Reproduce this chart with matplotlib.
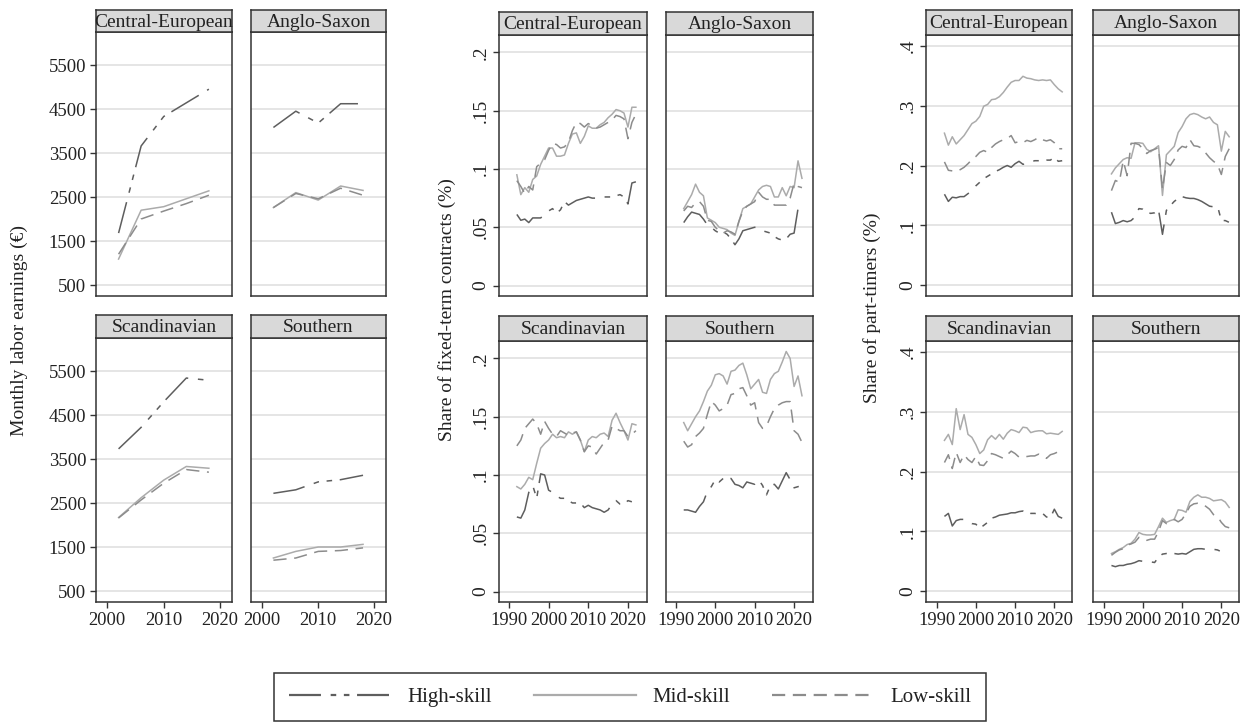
import matplotlib
matplotlib.use('Agg')
import matplotlib.pyplot as plt
import numpy as np
from matplotlib.lines import Line2D

plt.rcParams['font.family'] = ['Liberation Serif', 'DejaVu Serif']
plt.rcParams['lines.scale_dashes'] = False

regions = ['Central-European', 'Anglo-Saxon', 'Scandinavian', 'Southern']
skills = ['High-skill', 'Mid-skill', 'Low-skill']

# monthly labor earnings (EUR)
earn_years = [2002, 2006, 2010, 2014, 2018]
earn_ce_high = [1680, 3660, 4330, 4640, 4950]
earn_ce_mid = [1090, 2200, 2280, 2460, 2640]
earn_ce_low = [1200, 2000, 2180, 2350, 2540]
earn_as_high = [4080, 4450, 4180, 4620, 4620]
earn_as_mid = [2260, 2600, 2430, 2750, 2650]
earn_as_low = [2260, 2580, 2460, 2700, 2540]
earn_sc_high = [3730, 4220, 4800, 5340, 5290]
earn_sc_mid = [2170, 2620, 3020, 3330, 3290]
earn_sc_low = [2160, 2570, 2950, 3260, 3200]
earn_so_high = [2720, 2800, 2980, 3030, 3130]
earn_so_mid = [1250, 1400, 1500, 1500, 1560]
earn_so_low = [1200, 1250, 1400, 1420, 1480]

# share of fixed-term contracts
ft_years = list(range(1992, 2023))
ft_ce_high = [0.061, 0.056, 0.057, 0.054, 0.058, 0.058, 0.058, 0.061, 0.064, 0.066,
              0.062, 0.065, 0.072, 0.069, 0.071, 0.073, 0.074, 0.075, 0.076, 0.075,
              0.075, 0.075, 0.076, 0.076, 0.076, 0.077, 0.078, 0.076, 0.070, 0.088, 0.089]
ft_ce_mid = [0.095, 0.078, 0.084, 0.080, 0.091, 0.094, 0.104, 0.111, 0.118, 0.118,
             0.111, 0.111, 0.112, 0.122, 0.130, 0.131, 0.122, 0.128, 0.137, 0.135,
             0.135, 0.138, 0.140, 0.144, 0.147, 0.151, 0.150, 0.148, 0.136, 0.153, 0.153]
ft_ce_low = [0.090, 0.085, 0.079, 0.085, 0.082, 0.102, 0.105, 0.108, 0.116, 0.122,
             0.121, 0.118, 0.119, 0.123, 0.133, 0.140, 0.139, 0.136, 0.139, 0.137,
             0.135, 0.136, 0.138, 0.140, 0.142, 0.146, 0.145, 0.143, 0.126, 0.140, 0.147]
ft_as_high = [0.054, 0.059, 0.063, 0.062, 0.061, 0.057, 0.052, 0.050, 0.047, 0.045,
              0.046, 0.044, 0.040, 0.035, 0.040, 0.047, 0.048, 0.049, 0.050, 0.049,
              0.047, 0.046, 0.045, 0.042, 0.040, 0.039, 0.040, 0.044, 0.045, 0.066, 0.062]
ft_as_mid = [0.066, 0.072, 0.078, 0.087, 0.080, 0.077, 0.058, 0.056, 0.054, 0.050,
             0.049, 0.048, 0.045, 0.043, 0.055, 0.066, 0.068, 0.070, 0.076, 0.082,
             0.085, 0.086, 0.085, 0.076, 0.076, 0.084, 0.077, 0.085, 0.084, 0.107, 0.092]
ft_as_low = [0.064, 0.068, 0.067, 0.071, 0.072, 0.068, 0.056, 0.055, 0.050, 0.047,
             0.045, 0.047, 0.046, 0.044, 0.055, 0.064, 0.068, 0.070, 0.072, 0.080,
             0.076, 0.074, 0.074, 0.069, 0.069, 0.069, 0.069, 0.075, 0.088, 0.085, 0.084]
ft_sc_high = [0.064, 0.063, 0.070, 0.085, 0.091, 0.080, 0.101, 0.100, 0.087, 0.085,
              0.082, 0.080, 0.080, 0.078, 0.076, 0.076, 0.076, 0.072, 0.074, 0.072,
              0.071, 0.070, 0.068, 0.070, 0.075, 0.078, 0.075, 0.075, 0.078, 0.077, 0.081]
ft_sc_mid = [0.090, 0.088, 0.092, 0.098, 0.096, 0.110, 0.123, 0.127, 0.130, 0.135,
             0.132, 0.133, 0.132, 0.137, 0.135, 0.137, 0.130, 0.120, 0.130, 0.133,
             0.132, 0.135, 0.136, 0.133, 0.147, 0.153, 0.145, 0.138, 0.130, 0.144, 0.143]
ft_sc_low = [0.125, 0.130, 0.140, 0.144, 0.148, 0.144, 0.135, 0.146, 0.140, 0.135,
             0.133, 0.138, 0.136, 0.134, 0.136, 0.137, 0.130, 0.120, 0.125, 0.124,
             0.118, 0.123, 0.128, 0.130, 0.142, 0.140, 0.138, 0.138, 0.133, 0.135, 0.138]
ft_so_high = [0.070, 0.070, 0.069, 0.068, 0.073, 0.077, 0.086, 0.090, 0.096, 0.094,
              0.097, 0.098, 0.097, 0.092, 0.091, 0.089, 0.094, 0.093, 0.092, 0.096,
              0.091, 0.083, 0.091, 0.092, 0.088, 0.095, 0.102, 0.096, 0.089, 0.090, 0.091]
ft_so_mid = [0.145, 0.138, 0.144, 0.150, 0.155, 0.163, 0.172, 0.177, 0.186, 0.187,
             0.185, 0.178, 0.189, 0.190, 0.194, 0.196, 0.186, 0.174, 0.178, 0.182,
             0.171, 0.170, 0.182, 0.187, 0.189, 0.197, 0.206, 0.200, 0.176, 0.185, 0.168]
ft_so_low = [0.129, 0.124, 0.126, 0.133, 0.136, 0.140, 0.152, 0.163, 0.160, 0.155,
             0.157, 0.160, 0.169, 0.170, 0.174, 0.175, 0.168, 0.160, 0.162, 0.145,
             0.140, 0.142, 0.150, 0.157, 0.160, 0.162, 0.163, 0.163, 0.138, 0.135, 0.128]

# share of part-timers
pt_years = list(range(1992, 2023))
pt_ce_high = [0.152, 0.140, 0.147, 0.146, 0.148, 0.148, 0.153, 0.158, 0.166, 0.172,
              0.178, 0.182, 0.186, 0.190, 0.193, 0.197, 0.200, 0.197, 0.203, 0.207,
              0.202, 0.203, 0.206, 0.208, 0.208, 0.208, 0.209, 0.209, 0.214, 0.207, 0.208]
pt_ce_mid = [0.254, 0.234, 0.248, 0.236, 0.243, 0.250, 0.260, 0.270, 0.274, 0.282,
             0.299, 0.302, 0.310, 0.311, 0.315, 0.322, 0.331, 0.339, 0.342, 0.342,
             0.349, 0.346, 0.345, 0.343, 0.342, 0.343, 0.342, 0.343, 0.335, 0.328, 0.323]
pt_ce_low = [0.206, 0.192, 0.191, 0.190, 0.193, 0.197, 0.203, 0.210, 0.215, 0.222,
             0.225, 0.222, 0.230, 0.236, 0.240, 0.243, 0.245, 0.250, 0.238, 0.240,
             0.238, 0.242, 0.240, 0.243, 0.247, 0.243, 0.241, 0.243, 0.238, 0.228, 0.228]
pt_as_high = [0.122, 0.103, 0.105, 0.108, 0.106, 0.108, 0.114, 0.128, 0.127, 0.122,
              0.120, 0.121, 0.126, 0.085, 0.125, 0.133, 0.140, 0.145, 0.148, 0.146,
              0.145, 0.145, 0.143, 0.140, 0.136, 0.132, 0.131, 0.133, 0.108, 0.108, 0.105]
pt_as_mid = [0.186, 0.196, 0.203, 0.210, 0.213, 0.212, 0.238, 0.238, 0.237, 0.227,
             0.223, 0.228, 0.233, 0.150, 0.218, 0.225, 0.232, 0.255, 0.265, 0.278,
             0.285, 0.287, 0.285, 0.281, 0.278, 0.281, 0.272, 0.268, 0.224, 0.257, 0.248]
pt_as_low = [0.158, 0.175, 0.172, 0.208, 0.183, 0.237, 0.237, 0.235, 0.228, 0.220,
             0.225, 0.227, 0.230, 0.160, 0.205, 0.200, 0.210, 0.226, 0.232, 0.230,
             0.243, 0.233, 0.232, 0.229, 0.221, 0.213, 0.207, 0.202, 0.185, 0.215, 0.228]
pt_sc_high = [0.125, 0.130, 0.109, 0.118, 0.120, 0.120, 0.117, 0.113, 0.112, 0.105,
              0.110, 0.115, 0.122, 0.124, 0.127, 0.128, 0.129, 0.131, 0.131, 0.133,
              0.134, 0.126, 0.130, 0.130, 0.129, 0.130, 0.124, 0.123, 0.137, 0.125, 0.122]
pt_sc_mid = [0.252, 0.262, 0.245, 0.305, 0.270, 0.295, 0.262, 0.257, 0.245, 0.230,
             0.236, 0.253, 0.260, 0.254, 0.262, 0.254, 0.264, 0.270, 0.268, 0.265,
             0.274, 0.273, 0.265, 0.267, 0.268, 0.268, 0.263, 0.264, 0.263, 0.262, 0.267]
pt_sc_low = [0.215, 0.228, 0.205, 0.232, 0.215, 0.228, 0.220, 0.215, 0.225, 0.211,
             0.210, 0.218, 0.230, 0.228, 0.225, 0.222, 0.228, 0.234, 0.230, 0.224,
             0.225, 0.225, 0.226, 0.226, 0.229, 0.226, 0.222, 0.228, 0.230, 0.233, 0.230]
pt_so_high = [0.043, 0.041, 0.043, 0.043, 0.045, 0.046, 0.048, 0.051, 0.050, 0.049,
              0.049, 0.048, 0.057, 0.062, 0.063, 0.063, 0.063, 0.062, 0.063, 0.062,
              0.066, 0.070, 0.071, 0.071, 0.070, 0.070, 0.070, 0.069, 0.066, np.nan, np.nan]
pt_so_mid = [0.063, 0.066, 0.070, 0.073, 0.078, 0.080, 0.087, 0.098, 0.095, 0.094,
             0.094, 0.095, 0.108, 0.122, 0.115, 0.118, 0.120, 0.136, 0.135, 0.132,
             0.150, 0.157, 0.161, 0.157, 0.157, 0.155, 0.151, 0.152, 0.153, 0.149, 0.140]
pt_so_low = [0.060, 0.065, 0.069, 0.071, 0.077, 0.079, 0.082, 0.090, 0.086, 0.085,
             0.087, 0.087, 0.100, 0.118, 0.113, 0.116, 0.120, 0.116, 0.120, 0.130,
             0.142, 0.146, 0.147, 0.146, 0.142, 0.137, 0.128, 0.125, 0.115, 0.108, 0.106]

earn = [[earn_ce_high, earn_ce_mid, earn_ce_low], [earn_as_high, earn_as_mid, earn_as_low],
        [earn_sc_high, earn_sc_mid, earn_sc_low], [earn_so_high, earn_so_mid, earn_so_low]]
ft = [[ft_ce_high, ft_ce_mid, ft_ce_low], [ft_as_high, ft_as_mid, ft_as_low],
      [ft_sc_high, ft_sc_mid, ft_sc_low], [ft_so_high, ft_so_mid, ft_so_low]]
pt = [[pt_ce_high, pt_ce_mid, pt_ce_low], [pt_as_high, pt_as_mid, pt_as_low],
      [pt_sc_high, pt_sc_mid, pt_sc_low], [pt_so_high, pt_so_mid, pt_so_low]]

colors = ['#5e5e5e', '#ababab', '#8c8c8c']
styles = [(0, (23, 7, 4, 5.5, 4, 5.5)), '-', (0, (9.5, 5.5))]
frame = '#333333'

W, H = 1242, 722
fig = plt.figure(figsize=(W / 100, H / 100), dpi=100)


def px_axes(x0, y0, x1, y1):
    return fig.add_axes([x0 / W, 1 - y1 / H, (x1 - x0) / W, (y1 - y0) / H])


def draw_panel(cols, rows, years, data, xlim, xticks, ylim, yticks, ylabels, yrot,
               ytitle, tpos, ysize):
    for i, region in enumerate(regions):
        r, c = divmod(i, 2)
        x0, x1 = cols[c]
        st, top, bot = rows[r]
        ax = px_axes(x0, top, x1, bot)
        for k in range(3):
            ax.plot(years, data[i][k], color=colors[k], linestyle=styles[k], lw=1.1)
        ax.set_xlim(*xlim)
        ax.set_ylim(*ylim)
        ax.set_xticks(xticks)
        ax.set_yticks(yticks)
        if yrot:
            ax.set_yticklabels(ylabels, rotation=90, va='center')
        else:
            ax.set_yticklabels(ylabels)
        ax.grid(axis='y', color='#e3e3e3', lw=1.3)
        ax.set_axisbelow(True)
        ax.tick_params(direction='out', length=4, width=1, color=frame,
                       labelsize=13.3, labelcolor='#222222', pad=3)
        ax.tick_params(axis='y', labelsize=ysize)
        if c == 1:
            ax.tick_params(axis='y', left=False, labelleft=False)
        if r == 0:
            ax.tick_params(axis='x', bottom=False, labelbottom=False)
        for s in ax.spines.values():
            s.set_color(frame)
            s.set_linewidth(1.1)

        sx = px_axes(x0, st, x1, top)
        sx.set_facecolor('#d9d9d9')
        sx.set_xticks([])
        sx.set_yticks([])
        for s in sx.spines.values():
            s.set_color(frame)
            s.set_linewidth(1.1)
        sx.text(0.5, 0.45, region, ha='center', va='center', fontsize=14,
                color='#222222', transform=sx.transAxes)

    fig.text(tpos[0] / W, 1 - tpos[1] / H, ytitle, rotation=90, ha='center', va='center',
             fontsize=14, color='#222222')


draw_panel([(96, 232), (251, 386)], [(10, 32, 296), (315, 338, 602)], earn_years, earn,
           (1998, 2022.1), [2000, 2010, 2020], (250, 6250),
           [500, 1500, 2500, 3500, 4500, 5500], ['500', '1500', '2500', '3500', '4500', '5500'],
           False, 'Monthly labor earnings (€)', (19, 330), 13.5)

draw_panel([(499, 647), (666, 813)], [(12, 35, 296), (316, 341, 602)], ft_years, ft,
           (1987.5, 2024.8), [1990, 2000, 2010, 2020], (-0.009, 0.215),
           [0, 0.05, 0.1, 0.15, 0.2], ['0', '.05', '.1', '.15', '.2'],
           True, 'Share of fixed-term contracts (%)', (447, 310), 14)

draw_panel([(926, 1072), (1093, 1239)], [(10, 35, 296), (316, 341, 602)], pt_years, pt,
           (1987.3, 2024.5), [1990, 2000, 2010, 2020], (-0.018, 0.418),
           [0, 0.1, 0.2, 0.3, 0.4], ['0', '.1', '.2', '.3', '.4'],
           True, 'Share of part-timers (%)', (872, 308), 14)

handles = [Line2D([], [], color=colors[k], linestyle=styles[k], lw=1.6) for k in range(3)]
leg = fig.legend(handles, skills, loc='center',
                 bbox_to_anchor=((272 + 988) / 2 / W, 1 - (673 + 721) / 2 / H),
                 ncol=3, fontsize=15, frameon=True, fancybox=False, edgecolor=frame,
                 framealpha=1, handlelength=4.9, handletextpad=0.8, columnspacing=2.0,
                 borderpad=0.7, labelcolor='#222222')
leg.get_frame().set_linewidth(1.1)

fig.savefig('out.png', dpi=100)
